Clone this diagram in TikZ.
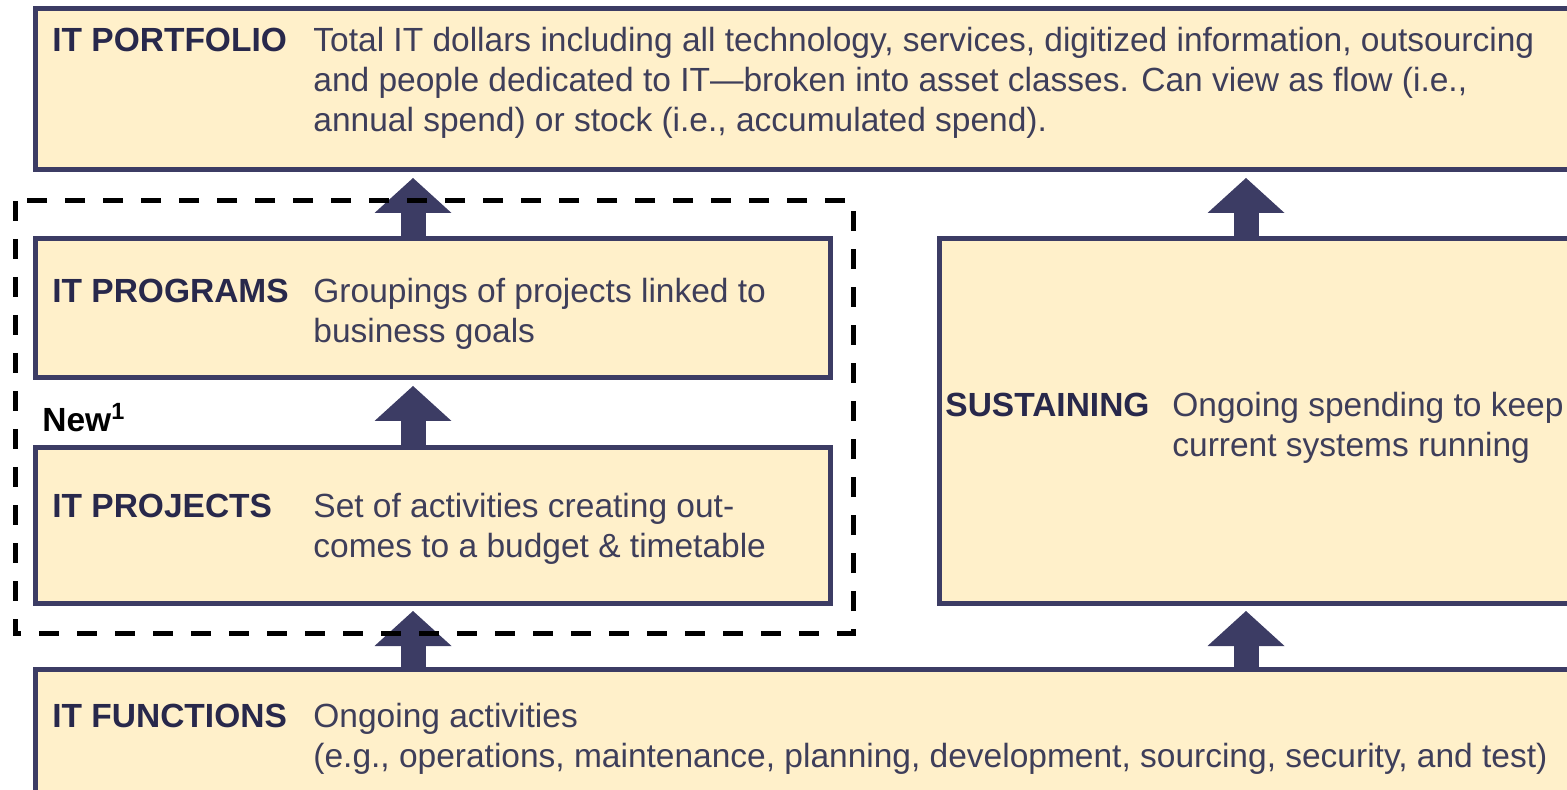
\documentclass[tikz,border=0pt]{standalone}
\usepackage{fontspec}
\setmainfont{Liberation Sans}
\usetikzlibrary{arrows.meta}
\definecolor{itcream}{RGB}{255,240,202}
\definecolor{itnavy}{RGB}{60,60,100}
\definecolor{itlabel}{RGB}{40,40,75}
\definecolor{ittext}{RGB}{62,62,90}
\tikzset{
  itbox/.style={draw=itnavy, line width=2.5pt, fill=itcream, anchor=north west, inner sep=0pt, outer sep=0pt},
  lbl/.style={anchor=base west, inner sep=0pt, text=itlabel, font=\fontsize{16.75}{20}\selectfont\bfseries},
  desc/.style={anchor=base west, inner sep=0pt, text=ittext, font=\fontsize{16.75}{20}\selectfont},
  uparrow/.style={draw=itnavy, line width=12.5pt, -{Triangle[width=38.5pt,length=17.5pt,line width=0pt]}, shorten >=4pt},
  newdash/.style={draw=black, line width=2.5pt, dash pattern=on 10pt off 9pt}
}
\newcommand{\lines}[1]{\begin{tabular}[t]{@{}l@{}}#1\end{tabular}}

\begin{document}
\begin{tikzpicture}[x=0.5pt,y=-0.5pt]
  \useasboundingbox (0,0) rectangle (1567,790);
  \clip (0,0) rectangle (1567,790);
  %boxes
  \node[itbox, minimum width=772.5pt, minimum height=80.5pt] (portfolio) at (35,9) {};
  \node[itbox, minimum width=397.5pt, minimum height=69.5pt] (programs) at (35,239) {};
  \node[itbox, minimum width=397.5pt, minimum height=77.5pt] (projects) at (35,448) {};
  \node[itbox, minimum width=320.5pt, minimum height=182pt] (sustaining) at (939,239) {};
  \node[itbox, minimum width=772.5pt, minimum height=65.5pt] (functions) at (35,669) {};
  %columns of the arrows
  \coordinate (leftcol) at (413,0);
  \coordinate (rightcol) at (1246,0);
  %texts
  \node[lbl] (portfoliolbl) at (52,52) {IT PORTFOLIO};
  \node[desc] (portfoliodesc) at (313,52) {\lines{Total IT dollars including all technology, services, digitized information, outsourcing\\
    and people dedicated to IT—broken into asset classes. Can view as flow (i.e.,\\
    annual spend) or stock (i.e., accumulated spend).}};
  \node[lbl] (programslbl) at (52,303) {IT PROGRAMS};
  \node[desc] (programsdesc) at (313,303) {\lines{Groupings of projects linked to\\ business goals}};
  \node[lbl, text=black] (newlbl) at (42,432) {New\textsuperscript{1}};
  \node[lbl] (projectslbl) at (52,517) {IT PROJECTS};
  \node[desc] (projectsdesc) at (313,517) {\lines{Set of activities creating out-\\ comes to a budget \& timetable}};
  \node[lbl] (sustaininglbl) at (945,417) {SUSTAINING};
  \node[desc] (sustainingdesc) at (1172,417) {\lines{Ongoing spending to keep\\ current systems running}};
  \node[lbl] (functionslbl) at (52,727) {IT FUNCTIONS};
  \node[desc] (functionsdesc) at (313,727) {\lines{Ongoing activities\\
    (e.g., operations, maintenance, planning, development, sourcing, security, and test)}};
  %arrows
  \draw[uparrow] (programs.north -| leftcol) -- (portfolio.south -| leftcol);
  \draw[uparrow] (projects.north -| leftcol) -- (programs.south -| leftcol);
  \draw[uparrow] (functions.north -| leftcol) -- (projects.south -| leftcol);
  \draw[uparrow] (sustaining.north -| rightcol) -- (portfolio.south -| rightcol);
  \draw[uparrow] (functions.north -| rightcol) -- (sustaining.south -| rightcol);
  %new group
  \draw[newdash] (15,201) rectangle (853,633);
\end{tikzpicture}
\end{document}
